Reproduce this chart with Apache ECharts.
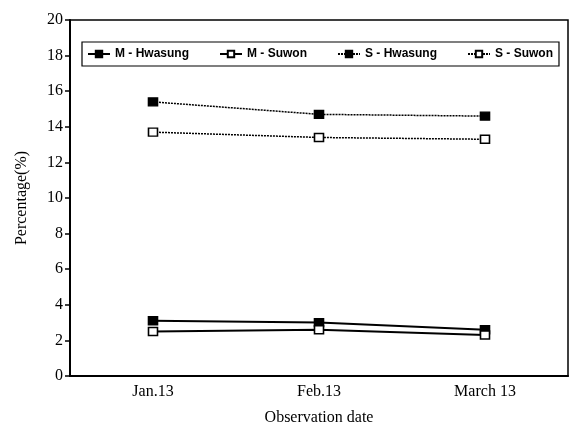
<!DOCTYPE html>
<html><head><meta charset="utf-8">
<script src="https://cdn.jsdelivr.net/npm/echarts@6/dist/echarts.min.js"></script>
<style>html,body{margin:0;padding:0;background:#fff}#c{width:573px;height:438px}</style>
</head><body><div id="c"></div>
<script>
var categories = ['Jan.13', 'Feb.13', 'March 13'];
var mHwasung = [3.1, 3.0, 2.6];
var mSuwon = [2.5, 2.6, 2.3];
var sHwasung = [15.4, 14.7, 14.6];
var sSuwon = [13.7, 13.4, 13.3];
var yTicks = [0, 2, 4, 6, 8, 10, 12, 14, 16, 18, 20];

var serif = '"Liberation Serif", "DejaVu Serif", serif';
function mk(name, data, filled, dotted) {
  return {
    name: name, type: 'line', data: data,
    symbol: 'rect', symbolSize: [9, 8],
    lineStyle: {color: '#000', width: dotted ? 1.5 : 2, type: dotted ? [2, 1] : 'solid'},
    itemStyle: {color: filled ? '#000' : '#fff', borderColor: '#000', borderWidth: 1.5},
    animation: false
  };
}
var chart = echarts.init(document.getElementById('c'));
chart.setOption({
  backgroundColor: '#fff',
  grid: {left: 70, top: 20, right: 5, bottom: 62, show: true, borderColor: '#000', borderWidth: 1.5},
  legend: {
    left: 82, top: 42, width: 490, itemGap: 30, itemWidth: 22, itemHeight: 8,
    borderColor: '#000', borderWidth: 1.2, padding: [6, 6, 6, 5],
    textStyle: {fontFamily: '"Liberation Sans", Arial, sans-serif', fontWeight: 'bold', fontSize: 12, color: '#000'},
    data: ['M - Hwasung', 'M - Suwon', 'S - Hwasung', 'S - Suwon']
  },
  xAxis: {
    type: 'category', data: categories, boundaryGap: true,
    name: 'Observation date', nameLocation: 'middle', nameGap: 34,
    nameTextStyle: {fontFamily: serif, fontSize: 16, color: '#000'},
    axisLine: {lineStyle: {color: '#000', width: 2}},
    axisTick: {alignWithLabel: true, length: 5, lineStyle: {color: '#000', width: 2}},
    axisLabel: {fontFamily: serif, fontSize: 16, color: '#000', margin: 8}
  },
  yAxis: {
    type: 'value', min: yTicks[0], max: yTicks[yTicks.length - 1], interval: 2,
    name: 'Percentage(%)', nameLocation: 'middle', nameGap: 40,
    nameTextStyle: {fontFamily: serif, fontSize: 16, color: '#000'},
    axisLine: {show: true, lineStyle: {color: '#000', width: 2}},
    axisTick: {show: true, length: 5, lineStyle: {color: '#000', width: 1.5}},
    axisLabel: {fontFamily: serif, fontSize: 16, color: '#000', margin: 7},
    splitLine: {show: false}
  },
  series: [
    mk('M - Hwasung', mHwasung, true, false),
    mk('M - Suwon', mSuwon, false, false),
    mk('S - Hwasung', sHwasung, true, true),
    mk('S - Suwon', sSuwon, false, true)
  ]
});
</script></body></html>
